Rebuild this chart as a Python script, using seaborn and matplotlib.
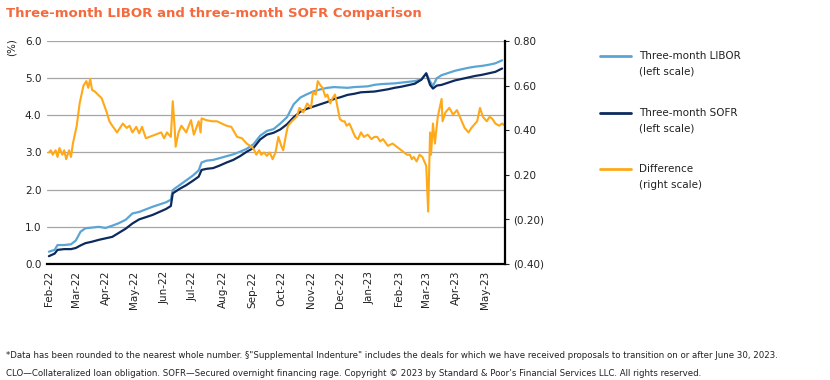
import pandas as pd
import numpy as np
import seaborn as sns
import matplotlib.pyplot as plt
import matplotlib.dates as mdates
from matplotlib.lines import Line2D

# ---- data ----
rate_dates = ['2022-02-01', '2022-02-07', '2022-02-10', '2022-02-17', '2022-02-24',
              '2022-03-01', '2022-03-06', '2022-03-11', '2022-03-18', '2022-03-25',
              '2022-04-01', '2022-04-08', '2022-04-15', '2022-04-22', '2022-04-29',
              '2022-05-06', '2022-05-13', '2022-05-20', '2022-05-27', '2022-06-03',
              '2022-06-08', '2022-06-10', '2022-06-17', '2022-06-24', '2022-07-01',
              '2022-07-07', '2022-07-10', '2022-07-15', '2022-07-22', '2022-07-29',
              '2022-08-05', '2022-08-12', '2022-08-19', '2022-08-26', '2022-09-02',
              '2022-09-09', '2022-09-16', '2022-09-23', '2022-09-30', '2022-10-07',
              '2022-10-14', '2022-10-21', '2022-10-28', '2022-11-04', '2022-11-11',
              '2022-11-18', '2022-11-25', '2022-12-02', '2022-12-09', '2022-12-16',
              '2022-12-23', '2022-12-30', '2023-01-06', '2023-01-13', '2023-01-20',
              '2023-01-27', '2023-02-03', '2023-02-10', '2023-02-17', '2023-02-24',
              '2023-03-01', '2023-03-05', '2023-03-08', '2023-03-12', '2023-03-17',
              '2023-03-24', '2023-03-31', '2023-04-07', '2023-04-14', '2023-04-21',
              '2023-04-28', '2023-05-05', '2023-05-12', '2023-05-19']
libor = [0.33, 0.38, 0.51, 0.51, 0.53, 0.63, 0.87, 0.96, 0.98, 1.00,
         0.97, 1.03, 1.10, 1.19, 1.36, 1.40, 1.47, 1.54, 1.60, 1.66,
         1.73, 1.99, 2.12, 2.25, 2.38, 2.52, 2.73, 2.78, 2.80, 2.85,
         2.90, 2.95, 3.02, 3.10, 3.22, 3.45, 3.58, 3.63, 3.78, 3.95,
         4.30, 4.48, 4.57, 4.65, 4.70, 4.74, 4.76, 4.75, 4.74, 4.76,
         4.77, 4.78, 4.82, 4.84, 4.85, 4.86, 4.88, 4.90, 4.92, 4.97,
         5.13, 4.91, 4.79, 5.00, 5.08, 5.14, 5.20, 5.24, 5.28, 5.31,
         5.33, 5.36, 5.40, 5.48]
sofr = [0.21, 0.28, 0.38, 0.40, 0.40, 0.43, 0.50, 0.56, 0.60, 0.65,
        0.69, 0.73, 0.84, 0.95, 1.09, 1.20, 1.26, 1.32, 1.40, 1.48,
        1.56, 1.90, 2.02, 2.12, 2.24, 2.35, 2.53, 2.56, 2.58, 2.65,
        2.73, 2.80, 2.90, 3.02, 3.12, 3.35, 3.48, 3.53, 3.62, 3.76,
        3.95, 4.10, 4.18, 4.24, 4.30, 4.36, 4.44, 4.49, 4.55, 4.58,
        4.62, 4.63, 4.64, 4.67, 4.70, 4.74, 4.77, 4.81, 4.85, 4.96,
        5.13, 4.82, 4.72, 4.80, 4.82, 4.88, 4.94, 4.98, 5.02, 5.06,
        5.09, 5.13, 5.17, 5.26]

diff_dates = ['2022-02-01', '2022-02-03', '2022-02-05', '2022-02-08', '2022-02-10',
              '2022-02-12', '2022-02-15', '2022-02-17', '2022-02-19', '2022-02-22',
              '2022-02-24', '2022-02-26', '2022-03-02', '2022-03-05', '2022-03-09',
              '2022-03-12', '2022-03-14', '2022-03-16', '2022-03-18', '2022-03-21',
              '2022-03-24', '2022-03-28', '2022-04-02', '2022-04-05', '2022-04-08',
              '2022-04-13', '2022-04-19', '2022-04-23', '2022-04-26', '2022-04-29',
              '2022-05-03', '2022-05-06', '2022-05-09', '2022-05-13', '2022-05-18',
              '2022-05-23', '2022-05-29', '2022-06-01', '2022-06-04', '2022-06-08',
              '2022-06-10', '2022-06-12', '2022-06-13', '2022-06-16', '2022-06-19',
              '2022-06-24', '2022-06-29', '2022-07-02', '2022-07-07', '2022-07-09',
              '2022-07-10', '2022-07-15', '2022-07-21', '2022-07-26', '2022-07-31',
              '2022-08-05', '2022-08-10', '2022-08-16', '2022-08-21', '2022-08-26',
              '2022-08-31', '2022-09-03', '2022-09-05', '2022-09-08', '2022-09-10',
              '2022-09-13', '2022-09-16', '2022-09-19', '2022-09-22', '2022-09-25',
              '2022-09-28', '2022-10-01', '2022-10-03', '2022-10-06', '2022-10-08',
              '2022-10-12', '2022-10-17', '2022-10-20', '2022-10-24', '2022-10-28',
              '2022-11-01', '2022-11-03', '2022-11-06', '2022-11-08', '2022-11-11',
              '2022-11-13', '2022-11-16', '2022-11-18', '2022-11-21', '2022-11-23',
              '2022-11-26', '2022-12-01', '2022-12-04', '2022-12-06', '2022-12-08',
              '2022-12-11', '2022-12-14', '2022-12-17', '2022-12-20', '2022-12-23',
              '2022-12-26', '2022-12-30', '2023-01-03', '2023-01-06', '2023-01-09',
              '2023-01-12', '2023-01-15', '2023-01-20', '2023-01-25', '2023-01-31',
              '2023-02-03', '2023-02-06', '2023-02-09', '2023-02-12', '2023-02-14',
              '2023-02-16', '2023-02-19', '2023-02-22', '2023-02-25', '2023-03-01',
              '2023-03-03', '2023-03-05', '2023-03-06', '2023-03-08', '2023-03-10',
              '2023-03-13', '2023-03-17', '2023-03-18', '2023-03-21', '2023-03-25',
              '2023-03-29', '2023-04-02', '2023-04-05', '2023-04-07', '2023-04-10',
              '2023-04-14', '2023-04-17', '2023-04-19', '2023-04-23', '2023-04-26',
              '2023-04-29', '2023-05-03', '2023-05-06', '2023-05-09', '2023-05-12',
              '2023-05-16', '2023-05-19', '2023-05-22']
difference = [0.30, 0.31, 0.29, 0.31, 0.28, 0.32, 0.29, 0.31, 0.27, 0.31,
              0.28, 0.34, 0.42, 0.52, 0.60, 0.62, 0.59, 0.63, 0.58, 0.573,
              0.56, 0.543, 0.483, 0.44, 0.42, 0.39, 0.43, 0.41, 0.42, 0.39,
              0.415, 0.386, 0.415, 0.364, 0.372, 0.38, 0.39, 0.364, 0.39, 0.37,
              0.53, 0.41, 0.326, 0.39, 0.42, 0.39, 0.445, 0.38, 0.44, 0.39,
              0.453, 0.445, 0.44, 0.44, 0.43, 0.42, 0.415, 0.37, 0.364, 0.34,
              0.326, 0.31, 0.29, 0.31, 0.29, 0.30, 0.285, 0.30, 0.27, 0.30,
              0.37, 0.33, 0.31, 0.38, 0.42, 0.44, 0.46, 0.50, 0.48, 0.52,
              0.50, 0.57, 0.56, 0.62, 0.60, 0.59, 0.55, 0.56, 0.52, 0.54,
              0.56, 0.45, 0.44, 0.44, 0.42, 0.43, 0.40, 0.37, 0.36, 0.39,
              0.37, 0.38, 0.36, 0.37, 0.37, 0.35, 0.36, 0.33, 0.34, 0.32,
              0.31, 0.30, 0.29, 0.29, 0.27, 0.28, 0.26, 0.29, 0.28, 0.24,
              0.035, 0.39, 0.29, 0.43, 0.34, 0.46, 0.54, 0.44, 0.48, 0.50,
              0.47, 0.49, 0.46, 0.44, 0.41, 0.39, 0.41, 0.42, 0.44, 0.50,
              0.46, 0.44, 0.46, 0.45, 0.43, 0.42, 0.43, 0.42]

right_ticks = [-0.2, 0.0, 0.2, 0.4, 0.6, 0.8]
right_labels = ['(0.40)', '(0.20)', '0.20', '0.40', '0.60', '0.80']

rates = pd.DataFrame({'date': pd.to_datetime(rate_dates), 'libor': libor, 'sofr': sofr})
diff = pd.DataFrame({'date': pd.to_datetime(diff_dates), 'difference': difference})

c_libor = '#5AA5D5'
c_sofr = '#0D2A5E'
c_diff = '#FFA818'

sns.set_style('white')
plt.rcParams['font.family'] = ['DejaVu Sans']

fig = plt.figure(figsize=(8.3, 3.8), dpi=100)
ax = fig.add_axes([0.0566, 0.3053, 0.5518, 0.5868])

sns.lineplot(data=rates, x='date', y='libor', ax=ax, color=c_libor, lw=1.6)
sns.lineplot(data=rates, x='date', y='sofr', ax=ax, color=c_sofr, lw=1.6)

ax.set_ylim(0, 6)
ax.set_yticks(np.arange(0, 6.01, 1.0))
ax.set_yticklabels([f'{v:.1f}' for v in np.arange(0, 6.01, 1.0)])
ax.set_xlim(pd.Timestamp('2022-01-30'), pd.Timestamp('2023-05-22'))
ax.xaxis.set_major_locator(mdates.MonthLocator())
ax.xaxis.set_major_formatter(mdates.DateFormatter('%b-%y'))
ax.grid(axis='y', color='#A6A6A6', lw=0.9)
ax.set_axisbelow(True)
ax.set_xlabel('')
ax.set_ylabel('')
ax.tick_params(axis='y', length=0, pad=4, labelsize=7.5, colors='#222222')
ax.tick_params(axis='x', length=3, width=0.8, color='#444444', pad=2,
               labelsize=7.5, labelrotation=90, labelcolor='#222222')
for s in ['top', 'left', 'right']:
    ax.spines[s].set_visible(False)
ax.spines['bottom'].set_color('black')
ax.spines['bottom'].set_linewidth(1.6)

ax2 = ax.twinx()
sns.lineplot(data=diff, x='date', y='difference', ax=ax2, color=c_diff, lw=1.5)
ax2.set_ylim(-0.2, 0.8)
ax2.set_yticks(right_ticks)
ax2.set_yticklabels(right_labels)
ax2.set_ylabel('')
ax2.tick_params(axis='y', length=3, width=0.8, pad=3, labelsize=7.5, colors='#222222')
for s in ['top', 'left', 'bottom']:
    ax2.spines[s].set_visible(False)
ax2.spines['right'].set_color('black')
ax2.spines['right'].set_linewidth(1.6)

# title and axis unit
fig.text(0.007, 0.965, 'Three-month LIBOR and three-month SOFR Comparison',
         color='#F46A3E', fontsize=9.5, fontweight='bold', va='center', ha='left')
fig.text(0.0145, 0.875, '(%)', rotation=90, fontsize=7.5, va='center', ha='center',
         color='#222222')

# legend, drawn by hand so each key sits on the first text line
legend_items = [('Three-month LIBOR', '(left scale)', c_libor),
                ('Three-month SOFR', '(left scale)', c_sofr),
                ('Difference', '(right scale)', c_diff)]
for i, (name, scale, col) in enumerate(legend_items):
    y = 1 - (56 + i * 56.7) / 380
    fig.add_artist(Line2D([600 / 830, 631 / 830], [y, y], color=col, lw=2,
                          transform=fig.transFigure))
    fig.text(639 / 830, y, name, fontsize=7.5, va='center', color='#222222')
    fig.text(639 / 830, y - 15.7 / 380, scale, fontsize=7.5, va='center',
             color='#222222')

fig.text(0.007, 1 - 355 / 380,
         '*Data has been rounded to the nearest whole number. \u00a7"Supplemental Indenture" '
         'includes the deals for which we have received proposals to transition on or after June 30, 2023.',
         fontsize=6.2, va='center', color='#222222')
fig.text(0.007, 1 - 374 / 380,
         'CLO\u2014Collateralized loan obligation. SOFR\u2014Secured overnight financing rage. '
         'Copyright \u00a9 2023 by Standard & Poor\u2019s Financial Services LLC. All rights reserved.',
         fontsize=6.2, va='center', color='#222222')

fig.savefig('out.png', dpi=100)
